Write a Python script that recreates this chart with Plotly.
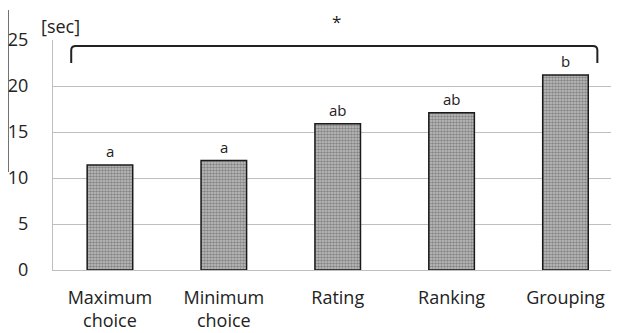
import plotly.graph_objects as go

categories = ["Maximum<br>choice", "Minimum<br>choice", "Rating", "Ranking", "Grouping"]
times_sec = [11.4, 11.9, 15.9, 17.1, 21.2]
group_letters = ["a", "a", "ab", "ab", "b"]
y_ticks = [0, 5, 10, 15, 20, 25]

# significance bracket (data units)
BR_X0, BR_X1 = -0.34, 4.28
BR_TOP, BR_END = 24.35, 22.5
RX, RY = 0.04, 0.45
STAR_X = 1.99

FONT = "Open Sans"

fig = go.Figure()
fig.add_trace(go.Bar(
    x=list(range(len(categories))), y=times_sec, width=0.4,
    marker=dict(color="#999999",
                line=dict(color="#1a1a1a", width=1.5),
                pattern=dict(shape=".", size=3, solidity=0.6,
                             fgcolor="#4a4a4a", bgcolor="#c4c4c4")),
    hoverinfo="skip",
))

for i, (v, t) in enumerate(zip(times_sec, group_letters)):
    fig.add_annotation(x=i, y=v, text=t, showarrow=False, yanchor="bottom",
                       yshift=2, font=dict(family=FONT, size=15, color="#222"))

path = (f"M {BR_X0},{BR_END} L {BR_X0},{BR_TOP-RY} Q {BR_X0},{BR_TOP} {BR_X0+RX},{BR_TOP} "
        f"L {BR_X1-RX},{BR_TOP} Q {BR_X1},{BR_TOP} {BR_X1},{BR_TOP-RY} L {BR_X1},{BR_END}")
fig.add_shape(type="path", path=path, xref="x", yref="y",
              line=dict(color="#222222", width=2))

# gap in top gridline behind star
fig.add_shape(type="rect", xref="x", yref="y", x0=STAR_X-0.22, x1=STAR_X+0.22, y0=24.8, y1=25.2,
              fillcolor="white", line=dict(width=0), layer="above")
fig.add_annotation(x=STAR_X, y=1.08, xref="x", yref="paper", text="*", showarrow=False,
                   yanchor="middle", font=dict(family=FONT, size=17, color="#222"))

fig.add_annotation(x=-0.025, y=1.06, xref="paper", yref="paper", text="[sec]", showarrow=False,
                   xanchor="left", yanchor="middle",
                   font=dict(family=FONT, size=18, color="#222"))

# stray vertical line at far left
fig.add_shape(type="line", xref="paper", yref="paper", x0=-0.0795, x1=-0.0795, y0=0.426, y1=1.13,
              line=dict(color="#444444", width=1.5))

# page body has an 8px margin, so the figure starts at (8, 8)
fig.update_layout(
    width=611, height=325,
    margin=dict(l=45, r=0, t=32, b=63),
    plot_bgcolor="white", paper_bgcolor="white",
    showlegend=False,
    font=dict(family=FONT, size=18, color="#222"),
)
fig.update_xaxes(range=[-0.5, 4.47], tickvals=list(range(len(categories))),
                 ticktext=categories, showgrid=False, showline=True,
                 linecolor="#bfbfbf", linewidth=1, ticks="", ticklabelstandoff=11,
                 tickfont=dict(family=FONT, size=18, color="#222"), automargin=False)
fig.update_yaxes(range=[0, 25], tickvals=y_ticks, showgrid=True, gridcolor="#bfbfbf",
                 gridwidth=1, showline=True, linecolor="#bfbfbf", zeroline=False,
                 ticks="", ticklabelstandoff=20, automargin=False,
                 tickfont=dict(family=FONT, size=18, color="#222"))

fig.write_html("out.html")
